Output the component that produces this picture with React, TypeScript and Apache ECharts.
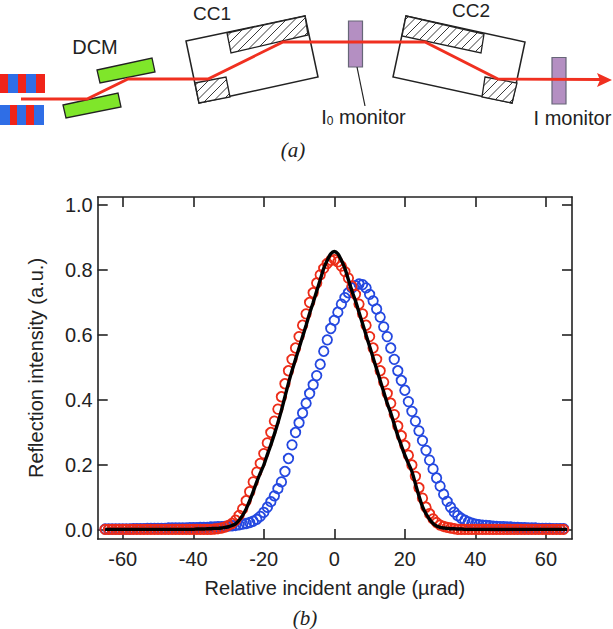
import React, { useEffect, useRef } from "react";
import * as echarts from "echarts";

const xStart = -65;
const tail = (n: number, v: number) => Array(n).fill(v) as number[];

const blueValues: number[] = [
  .003,.003,.003,.003,.003,.003,.003,.003,.004,.004,.004,.004,.005,.005,.005,.005,.005,.005,.006,.006,.006,.006,.006,.006,.007,.007,
  .007,.008,.008,.008,.009,.009,.010,.010,.011,.012,.013,.014,.016,.018,.020,.023,.027,.033,.042,.054,.070,.087,.105,.127,.148,.180,.220,.262,
  .300,.330,.360,.390,.420,.447,.475,.510,.550,.585,.620,.645,.670,.695,.715,.730,.745,.752,.757,.755,.745,.725,.705,.680,.655,.625,.595,.560,.525,.490,.460,.430,
  .395,.365,.335,.305,.275,.245,.215,.188,.160,.135,.110,.088,.070,.055,.044,.036,.030,.025,.021,.018,.016,.015,.014,.013,.012,.011,.010,.010,.009,.009,.008,.008,.007,.007,.006,.006,.006,.005,.005,.005,.005,.004,.004,.004,.004,
];
const redValues: number[] = [
  ...tail(31, .002),
  .003,.004,.006,.009,.014,.020,.030,.045,.065,.090,.118,.148,.178,.205,.235,.268,.300,.335,.372,.410,.450,.490,.525,.560,.595,.630,.665,.700,.730,.760,.785,.805,.820,.830,
  .832,.825,.812,.795,.775,.750,.725,.695,.665,.630,.595,.560,.525,.490,.455,.420,.390,.355,.320,.290,.260,.230,.200,.165,.130,.098,.070,.050,.034,.023,.015,.011,.008,.006,.004,
  ...tail(31, .002),
];
const fitValues: number[] = [
  ...tail(26, .002),
  .003,.003,.003,.004,.004,.005,.005,.006,.008,.010,.014,.019,.030,.045,.065,.090,.118,.148,.175,.200,.232,.262,.295,.330,.368,.410,.452,.490,.525,.560,.595,.630,.667,.700,.735,.770,.805,.830,.850,
  .857,.850,.830,.805,.770,.735,.705,.670,.635,.600,.565,.530,.495,.460,.425,.390,.360,.325,.290,.260,.230,.205,.180,.142,.105,.072,.050,.033,.020,.012,.008,.006,.005,.004,.004,.003,.003,
  ...tail(30, .002),
];
const xTicks = [-60, -40, -20, 0, 20, 40, 60];
const yTicks = [0, 0.2, 0.4, 0.6, 0.8, 1.0];

type P = [number, number];
const topStripes: [number, number, string][] = [[0,8,"#f0241a"],[8,18,"#2f6ee6"],[18,26,"#f0241a"],[26,36,"#2f6ee6"],[36,45,"#f0241a"]];
const lowStripes: [number, number, string][] = [[0,10,"#2f6ee6"],[10,17,"#f0241a"],[17,26,"#2f6ee6"],[26,34,"#f0241a"],[34,44,"#2f6ee6"]];
const greenBlocks: P[][] = [
  [[97,70],[152,58],[155,72],[100,83]],
  [[63,105],[118,93],[121,107],[66,118]],
];
const frames: P[][] = [
  [[186,41],[305,16],[318,77],[199,103]],
  [[406,16],[525,42],[512,103],[393,77]],
];
const crystals: P[][] = [
  [[227,33],[305,16],[308,35],[231,53]],
  [[195,83],[226,77],[230,97],[199,103]],
  [[406,16],[484,34],[481,53],[402,36]],
  [[485,77],[517,83],[512,103],[482,97]],
];
const beam: P[] = [[21,99],[87,99],[128,79],[208,79],[283,42],[425,42],[498,79],[600,79.5]];

function hatch(poly: P[], gap = 8.5) {
  const xs = poly.map((p) => p[0] + p[1]);
  const out: any[] = [];
  for (let c = Math.ceil(Math.min(...xs) / gap) * gap; c < Math.max(...xs); c += gap) {
    const hits: P[] = [];
    poly.forEach((a, i) => {
      const b = poly[(i + 1) % poly.length];
      const fa = a[0] + a[1] - c;
      const fb = b[0] + b[1] - c;
      if (fa * fb < 0) {
        const t = fa / (fa - fb);
        hits.push([a[0] + (b[0] - a[0]) * t, a[1] + (b[1] - a[1]) * t]);
      }
    });
    if (hits.length === 2) {
      out.push({ type: "line", z: 3, shape: { x1: hits[0][0], y1: hits[0][1], x2: hits[1][0], y2: hits[1][1] }, style: { stroke: "#222", lineWidth: 0.9 } });
    }
  }
  return out;
}

const sans = "'Liberation Sans', Arial, sans-serif";
const label = (text: string, x: number, y: number, size = 20) => ({
  type: "text", z: 6, x, y,
  style: { text, fontFamily: sans, fontSize: size, fill: "#222", align: "center", verticalAlign: "middle" },
});
const caption = (text: string, x: number, y: number) => ({
  type: "text", z: 6, x, y,
  style: { text, fontFamily: "'Liberation Serif', serif", fontStyle: "italic", fontSize: 21, fill: "#222", align: "center", verticalAlign: "middle" },
});

function diagram(): any[] {
  const els: any[] = [];
  const stripes = (list: [number, number, string][], y: number, h: number) =>
    list.forEach(([a, b, c]) => els.push({ type: "rect", z: 2, shape: { x: a, y, width: b - a, height: h }, style: { fill: c } }));
  stripes(topStripes, 74, 19);
  stripes(lowStripes, 105, 20);
  greenBlocks.forEach((points) => els.push({ type: "polygon", z: 2, shape: { points }, style: { fill: "#7fe62a", stroke: "#222", lineWidth: 1.3 } }));
  frames.forEach((points) => els.push({ type: "polygon", z: 2, shape: { points }, style: { fill: "#fff", stroke: "#222", lineWidth: 1.5 } }));
  crystals.forEach((points) => {
    els.push({ type: "polygon", z: 2, shape: { points }, style: { fill: "#fff", stroke: "#222", lineWidth: 1.3 } });
    els.push(...hatch(points));
  });
  els.push({ type: "rect", z: 3, shape: { x: 348.5, y: 21, width: 14, height: 46 }, style: { fill: "#b48fc2", stroke: "#667", lineWidth: 1.2 } });
  els.push({ type: "rect", z: 3, shape: { x: 552, y: 57.5, width: 14, height: 46.5 }, style: { fill: "#b48fc2", stroke: "#667", lineWidth: 1.2 } });
  els.push({ type: "line", z: 3, shape: { x1: 357, y1: 67, x2: 365, y2: 106 }, style: { stroke: "#222", lineWidth: 1.2 } });
  els.push({ type: "polyline", z: 4, shape: { points: beam }, style: { stroke: "#f03020", lineWidth: 2.8, fill: "none" } });
  els.push({ type: "polygon", z: 4, shape: { points: [[597,73],[612,80],[597,87],[600,80]] }, style: { fill: "#f03020" } });
  els.push(label("DCM", 95, 47), label("CC1", 212, 13, 19), label("CC2", 471, 10, 19), label("I monitor", 572.5, 118));
  els.push({
    type: "text", z: 6, x: 363.5, y: 117,
    style: {
      text: "{a|I}{b|0}{a| monitor}", fontFamily: sans, fontSize: 20, fill: "#222", align: "center", verticalAlign: "middle",
      rich: { a: { fontFamily: sans, fontSize: 20, fill: "#222" }, b: { fontFamily: sans, fontSize: 12, fill: "#222", verticalAlign: "bottom" } },
    },
  });
  els.push(caption("(a)", 293, 150), caption("(b)", 305, 618));
  return els;
}

const pairs = (vals: number[]) => vals.map((v, i) => [xStart + i, v]);
const axisLine = { show: true, onZero: false, lineStyle: { color: "#222", width: 1.6 } };
const tickStyle = { color: "#222", width: 1.6 };
const labelStyle = { color: "#222", fontFamily: sans, fontSize: 20 };
const ring = (color: string) => ({ color: "transparent", borderColor: color, borderWidth: 1.8, opacity: 1 });

export default function App() {
  const ref = useRef<HTMLDivElement>(null);
  useEffect(() => {
    document.body.style.margin = "0";
    const chart = echarts.init(ref.current!, null, { renderer: "svg" });
    const xBase = { type: "value", min: -67.1, max: 67.4, splitLine: { show: false }, axisLine };
    const yBase = { type: "value", min: -0.0277, max: 1.0246, splitLine: { show: false }, axisLine };
    chart.setOption({
      animation: false,
      backgroundColor: "#fff",
      grid: { left: 97.7, right: 41, top: 197, bottom: 90, containLabel: false },
      xAxis: [
        {
          ...xBase, position: "bottom",
          name: "Relative incident angle (µrad)", nameLocation: "middle", nameGap: 39,
          nameTextStyle: { color: "#222", fontFamily: sans, fontSize: 20 },
          axisTick: { show: true, inside: true, length: 10, lineStyle: tickStyle, customValues: xTicks },
          axisLabel: { ...labelStyle, margin: 10, customValues: xTicks, showMinLabel: true, showMaxLabel: true },
        },
        {
          ...xBase, position: "top",
          axisTick: { show: true, inside: true, length: 10, lineStyle: tickStyle, customValues: xTicks },
          axisLabel: { show: false },
        },
      ],
      yAxis: [
        {
          ...yBase, position: "left",
          name: "Reflection intensity (a.u.)", nameLocation: "middle", nameGap: 52,
          nameTextStyle: { color: "#222", fontFamily: sans, fontSize: 20 },
          axisTick: { show: true, inside: true, length: 10, lineStyle: tickStyle, customValues: yTicks },
          axisLabel: { ...labelStyle, margin: 5, customValues: yTicks, formatter: (v: number) => v.toFixed(1) },
        },
        {
          ...yBase, position: "right",
          axisTick: { show: true, inside: true, length: 10, lineStyle: tickStyle, customValues: yTicks },
          axisLabel: { show: false },
        },
      ],
      series: [
        { type: "scatter", name: "CC1+CC2 offset", symbol: "circle", symbolSize: 9.5, data: pairs(blueValues), itemStyle: ring("#2448e0"), z: 2 },
        { type: "scatter", name: "Aligned", symbol: "circle", symbolSize: 9.5, data: pairs(redValues), itemStyle: ring("#ec2c18"), z: 3 },
        { type: "line", name: "Fit", showSymbol: false, smooth: 0.3, data: pairs(fitValues), lineStyle: { color: "#000", width: 3.4 }, z: 4 },
      ],
      graphic: { elements: diagram() },
    });
    return () => chart.dispose();
  }, []);
  return <div ref={ref} style={{ position: "absolute", left: 0, top: 0, width: 613, height: 629 }} />;
}
